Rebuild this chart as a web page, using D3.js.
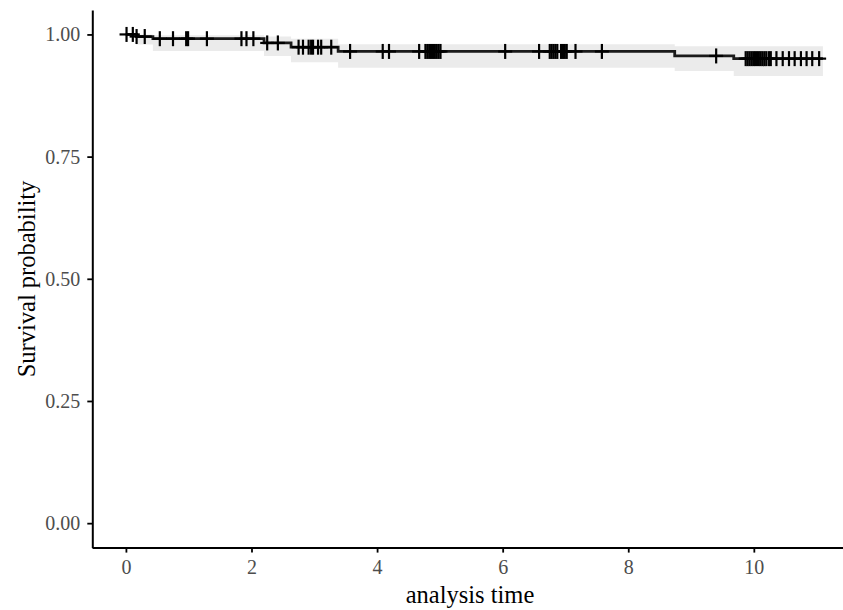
<!DOCTYPE html>
<html>
<head>
<meta charset="utf-8">
<script src="https://cdn.jsdelivr.net/npm/d3@7"></script>
<style>
  body { margin: 0; background: #fff; }
  text { font-family: "Liberation Serif", "DejaVu Serif", serif; }
</style>
</head>
<body>
<svg id="svg" width="843" height="610"></svg>
<script>
// Kaplan-Meier steps (time where the curve drops, survival after the drop)
var stepTimes = [0, 0.17, 0.43, 2.20, 2.63, 3.38, 8.74, 9.68];
var survival  = [1.000, 0.9957, 0.9913, 0.9826, 0.9739, 0.9652, 0.9560, 0.9505];
var upperCI   = [1.000, 1.000, 0.9985, 0.9960, 0.9910, 0.9800, 0.9760, 0.9760];
var lowerCI   = [1.000, 0.9795, 0.9660, 0.9560, 0.9430, 0.9320, 0.9250, 0.9150];
var endTime = 11.10;

// censored observations
var censorTimes = [0.01, 0.11, 0.17, 0.30, 0.54, 0.75, 0.96, 0.99, 1.29,
  1.84, 1.92, 2.03, 2.25, 2.42, 2.75, 2.82, 2.91, 2.95, 2.98, 3.06, 3.11, 3.27, 3.57,
  4.09, 4.19, 4.67, 4.77, 4.80, 4.83, 4.86, 4.89, 4.92, 4.95, 4.98, 5.01,
  6.04, 6.58, 6.75, 6.78, 6.81, 6.84, 6.87, 6.93, 6.96, 6.99, 7.02, 7.16, 7.58,
  9.40, 9.87, 9.90, 9.93, 9.96, 9.99, 10.02, 10.05, 10.08, 10.11, 10.14, 10.17,
  10.20, 10.24, 10.27, 10.36, 10.46, 10.56, 10.65, 10.75, 10.84, 10.93, 11.04];

var xTicks = [0, 2, 4, 6, 8, 10];
var yTicks = [0, 0.25, 0.5, 0.75, 1];

function draw(){
	var svg = d3.select("#svg");

	var scaleX = d3.scaleLinear().domain([-0.54, 11.42]).range([92, 843]);
	var scaleY = d3.scaleLinear().domain([-0.05, 1.05]).range([547.6, 10]);

	// table for the step line and band
	var rows = stepTimes.map(function(t, i){
		return {t: t, s: survival[i], up: upperCI[i], lo: lowerCI[i]};
	});
	var last = rows[rows.length - 1];
	rows.push({t: endTime, s: last.s, up: last.up, lo: last.lo});

	// confidence band
	var band = d3.area()
		.curve(d3.curveStepAfter)
		.x(function(d){ return scaleX(d.t); })
		.y0(function(d){ return scaleY(d.lo); })
		.y1(function(d){ return scaleY(d.up); });
	svg.append("path")
		.datum(rows)
		.attr("d", band)
		.attr("fill", "#ebebeb");

	// survival curve
	var line = d3.line()
		.curve(d3.curveStepAfter)
		.x(function(d){ return scaleX(d.t); })
		.y(function(d){ return scaleY(d.s); });
	svg.append("path")
		.datum(rows)
		.attr("d", line)
		.attr("fill", "none")
		.attr("stroke", "#1a1a1a")
		.attr("stroke-width", 2.8);

	// survival value at time t
	function survAt(t){
		var i = d3.bisectRight(stepTimes, t) - 1;
		return survival[Math.max(i, 0)];
	}

	// censor marks "+"
	var marks = svg.append("g");
	censorTimes.forEach(function(t){
		var cx = scaleX(t), cy = scaleY(survAt(t));
		marks.append("line").attr("x1", cx).attr("x2", cx)
			.attr("y1", cy - 7.5).attr("y2", cy + 7.5);
		marks.append("line").attr("x1", cx - 7).attr("x2", cx + 7)
			.attr("y1", cy).attr("y2", cy);
	});
	marks.selectAll("line").attr("stroke", "#000").attr("stroke-width", 2.2);

	// axes
	var axisX = d3.axisBottom(scaleX).tickValues(xTicks).tickSize(5).tickSizeOuter(0)
		.tickPadding(7).tickFormat(d3.format("d"));
	var gAxisX = svg.append("g").attr("transform", "translate(0,547.6)").call(axisX);

	var axisY = d3.axisLeft(scaleY).tickValues(yTicks).tickSize(5).tickSizeOuter(0)
		.tickPadding(7).tickFormat(d3.format(".2f"));
	var gAxisY = svg.append("g").attr("transform", "translate(92.3,0)").call(axisY);

	[gAxisX, gAxisY].forEach(function(g){
		g.select(".domain").attr("stroke", "#000").attr("stroke-width", 2);
		g.selectAll(".tick line").attr("stroke", "#000").attr("stroke-width", 1.8);
		g.selectAll(".tick text").attr("fill", "#4d4d4d").style("font-size", "20px")
			.style("font-family", "Liberation Serif, serif");
	});

	// X axis label
	svg.append("text")
		.attr("text-anchor", "middle")
		.attr("x", 470)
		.attr("y", 603)
		.style("font-size", "24.5px")
		.text("analysis time");

	// Y axis label
	svg.append("text")
		.attr("text-anchor", "middle")
		.attr("transform", "translate(35,279) rotate(-90)")
		.style("font-size", "24.5px")
		.text("Survival probability");
}
draw();
</script>
</body>
</html>
